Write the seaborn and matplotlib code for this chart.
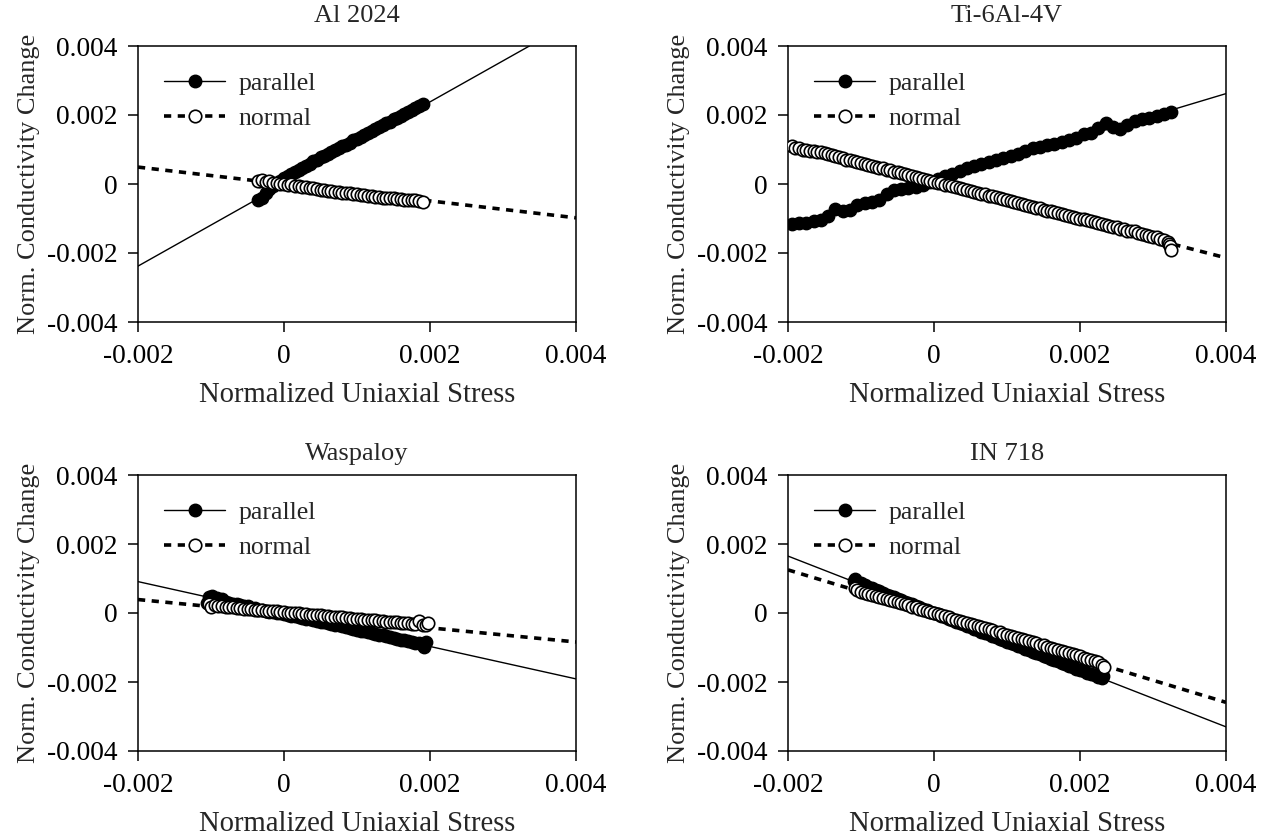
import matplotlib
matplotlib.use("Agg")
import matplotlib.pyplot as plt
from matplotlib.lines import Line2D
import seaborn as sns

# values, in units of 1e-3
al_par_x = [-0.35, -0.33, -0.30, -0.28, -0.25, -0.20, -0.15, -0.10, -0.05, 0.00, 0.05, 0.10,
            0.15, 0.20, 0.25, 0.30, 0.35, 0.40, 0.45, 0.50, 0.55, 0.60, 0.65, 0.70, 0.75, 0.80,
            0.85, 0.90, 0.95, 1.00, 1.05, 1.10, 1.15, 1.20, 1.25, 1.30, 1.35, 1.40, 1.45, 1.50,
            1.55, 1.60, 1.65, 1.70, 1.75, 1.80, 1.85, 1.90]
al_par_y = [-0.45, 0.10, -0.40, 0.08, -0.25, -0.15, -0.05, 0.03, 0.10, 0.16, 0.24, 0.30,
            0.35, 0.40, 0.47, 0.53, 0.58, 0.66, 0.70, 0.77, 0.81, 0.88, 0.93, 0.98, 1.04, 1.10,
            1.14, 1.20, 1.27, 1.31, 1.37, 1.42, 1.49, 1.54, 1.59, 1.66, 1.70, 1.76, 1.81, 1.88,
            1.92, 1.98, 2.04, 2.09, 2.14, 2.21, 2.26, 2.32]
al_nor_x = [-0.35, -0.30, -0.25, -0.20, -0.15, -0.10, -0.05, 0.00, 0.05, 0.10, 0.15, 0.20,
            0.25, 0.30, 0.35, 0.40, 0.45, 0.50, 0.55, 0.60, 0.65, 0.70, 0.75, 0.80, 0.85, 0.90,
            0.95, 1.00, 1.05, 1.10, 1.15, 1.20, 1.25, 1.30, 1.35, 1.40, 1.45, 1.50, 1.55, 1.60,
            1.65, 1.70, 1.75, 1.80, 1.85, 1.90]
al_nor_y = [0.10, 0.12, 0.05, 0.08, 0.03, 0.04, 0.00, 0.01, -0.02, -0.01, -0.05, -0.06,
            -0.08, -0.10, -0.11, -0.13, -0.15, -0.16, -0.17, -0.20, -0.20, -0.22, -0.23, -0.25,
            -0.26, -0.27, -0.30, -0.29, -0.32, -0.33, -0.34, -0.36, -0.37, -0.37, -0.40, -0.40,
            -0.41, -0.42, -0.44, -0.43, -0.45, -0.46, -0.46, -0.47, -0.48, -0.52]

ti_par_x = [-1.95, -1.85, -1.75, -1.65, -1.55, -1.45, -1.35, -1.25, -1.15, -1.05, -0.95, -0.85,
            -0.75, -0.65, -0.55, -0.45, -0.35, -0.25, -0.15, -0.05, 0.05, 0.15, 0.25, 0.35,
            0.45, 0.55, 0.65, 0.75, 0.85, 0.95, 1.05, 1.15, 1.25, 1.35, 1.45, 1.55, 1.65, 1.75,
            1.85, 1.95, 2.05, 2.15, 2.25, 2.35, 2.45, 2.55, 2.65, 2.75, 2.85, 2.95, 3.05, 3.15,
            3.25]
ti_par_y = [-1.17, -1.12, -1.13, -1.08, -1.03, -0.92, -0.72, -0.78, -0.76, -0.62, -0.56, -0.52,
            -0.46, -0.30, -0.17, -0.15, -0.13, -0.10, -0.02, 0.07, 0.14, 0.22, 0.30, 0.39,
            0.46, 0.53, 0.59, 0.64, 0.70, 0.75, 0.80, 0.86, 0.96, 1.04, 1.08, 1.13, 1.17, 1.21,
            1.27, 1.33, 1.46, 1.48, 1.62, 1.76, 1.65, 1.58, 1.72, 1.82, 1.87, 1.91, 1.98, 2.03,
            2.08]
ti_nor_x = [-1.95, -1.90, -1.85, -1.80, -1.75, -1.70, -1.65, -1.60, -1.55, -1.50, -1.45, -1.40,
            -1.35, -1.30, -1.25, -1.20, -1.15, -1.10, -1.05, -1.00, -0.95, -0.90, -0.85, -0.80,
            -0.75, -0.70, -0.65, -0.60, -0.55, -0.50, -0.45, -0.40, -0.35, -0.30, -0.25, -0.20,
            -0.15, -0.10, -0.05, 0.00, 0.05, 0.10, 0.15, 0.20, 0.25, 0.30, 0.35, 0.40, 0.45,
            0.50, 0.55, 0.60, 0.65, 0.70, 0.75, 0.80, 0.85, 0.90, 0.95, 1.00, 1.05, 1.10, 1.15,
            1.20, 1.25, 1.30, 1.35, 1.40, 1.45, 1.50, 1.55, 1.60, 1.65, 1.70, 1.75, 1.80, 1.85,
            1.90, 1.95, 2.00, 2.05, 2.10, 2.15, 2.20, 2.25, 2.30, 2.35, 2.40, 2.45, 2.50, 2.55,
            2.60, 2.65, 2.70, 2.75, 2.80, 2.85, 2.90, 2.95, 3.00, 3.05, 3.10, 3.15, 3.20, 3.22,
            3.23, 3.24]
ti_nor_y = [1.09, 1.05, 1.04, 1.00, 0.99, 0.97, 0.96, 0.92, 0.93, 0.89, 0.86, 0.85,
            0.80, 0.78, 0.75, 0.71, 0.70, 0.66, 0.63, 0.62, 0.57, 0.55, 0.53, 0.49,
            0.47, 0.45, 0.42, 0.40, 0.36, 0.35, 0.31, 0.28, 0.27, 0.23, 0.20, 0.18,
            0.15, 0.12, 0.08, 0.07, 0.04, 0.02, -0.02, -0.04, -0.06, -0.09, -0.12, -0.14, -0.17,
            -0.19, -0.23, -0.25, -0.28, -0.30, -0.34, -0.36, -0.39, -0.42, -0.44, -0.46, -0.50,
            -0.52, -0.55, -0.58, -0.60, -0.63, -0.66, -0.69, -0.71, -0.74, -0.77, -0.79, -0.82,
            -0.84, -0.87, -0.90, -0.92, -0.95, -0.98, -1.00, -1.02, -1.05, -1.07, -1.11, -1.12,
            -1.16, -1.18, -1.21, -1.24, -1.26, -1.30, -1.31, -1.35, -1.37, -1.36, -1.42, -1.45,
            -1.47, -1.50, -1.53, -1.55, -1.60, -1.62, -1.67, -1.74, -1.80, -1.90]

wa_par_x = [-1.05, -1.03, -1.00, -0.98, -0.95, -0.92, -0.90, -0.85, -0.80, -0.75, -0.70, -0.65,
            -0.60, -0.55, -0.50, -0.45, -0.40, -0.35, -0.30, -0.25, -0.20, -0.15, -0.10, -0.05,
            0.00, 0.05, 0.10, 0.15, 0.20, 0.25, 0.30, 0.35, 0.40, 0.45, 0.50, 0.55, 0.60, 0.65,
            0.70, 0.75, 0.80, 0.85, 0.90, 0.95, 1.00, 1.05, 1.10, 1.15, 1.20, 1.25, 1.30, 1.35,
            1.40, 1.45, 1.50, 1.55, 1.60, 1.65, 1.70, 1.75, 1.80, 1.85, 1.90, 1.92, 1.94]
wa_par_y = [0.30, 0.45, 0.20, 0.50, 0.35, 0.44, 0.28, 0.40, 0.33, 0.30, 0.27, 0.26,
            0.22, 0.20, 0.19, 0.15, 0.14, 0.10, 0.09, 0.06, 0.04, 0.03, 0.00, -0.01,
            -0.04, -0.05, -0.08, -0.10, -0.12, -0.14, -0.17, -0.18, -0.21, -0.23, -0.26, -0.27,
            -0.30, -0.32, -0.35, -0.36, -0.39, -0.41, -0.43, -0.46, -0.48, -0.51, -0.53, -0.55,
            -0.58, -0.60, -0.63, -0.65, -0.67, -0.70, -0.72, -0.74, -0.77, -0.79, -0.82, -0.84,
            -0.87, -0.88, -0.93, -0.98, -0.85]
wa_nor_x = [-1.03, -1.00, -0.95, -0.90, -0.85, -0.80, -0.75, -0.70, -0.65, -0.60, -0.55, -0.50,
            -0.45, -0.40, -0.35, -0.30, -0.25, -0.20, -0.15, -0.10, -0.05, 0.00, 0.05, 0.10,
            0.15, 0.20, 0.25, 0.30, 0.35, 0.40, 0.45, 0.50, 0.55, 0.60, 0.65, 0.70, 0.75, 0.80,
            0.85, 0.90, 0.95, 1.00, 1.05, 1.10, 1.15, 1.20, 1.25, 1.30, 1.35, 1.40, 1.45, 1.50,
            1.55, 1.60, 1.65, 1.70, 1.75, 1.80, 1.85, 1.90, 1.95, 1.97]
wa_nor_y = [0.25, 0.18, 0.23, 0.20, 0.19, 0.18, 0.17, 0.17, 0.15, 0.15, 0.13, 0.12,
            0.12, 0.10, 0.09, 0.09, 0.07, 0.07, 0.05, 0.05, 0.03, 0.03, 0.01, 0.01,
            -0.01, -0.01, -0.03, -0.03, -0.05, -0.05, -0.07, -0.07, -0.09, -0.08, -0.11, -0.11,
            -0.12, -0.13, -0.14, -0.14, -0.16, -0.17, -0.17, -0.19, -0.19, -0.21, -0.21, -0.23,
            -0.23, -0.25, -0.25, -0.26, -0.27, -0.28, -0.29, -0.30, -0.31, -0.32, -0.22, -0.34,
            -0.35, -0.30]

in_par_x = [-1.10, -1.08, -1.05, -1.00, -0.95, -0.90, -0.85, -0.80, -0.75, -0.70, -0.65, -0.60,
            -0.55, -0.50, -0.45, -0.40, -0.35, -0.30, -0.25, -0.20, -0.15, -0.10, -0.05, 0.00,
            0.05, 0.10, 0.15, 0.20, 0.25, 0.30, 0.35, 0.40, 0.45, 0.50, 0.55, 0.60, 0.65, 0.70,
            0.75, 0.80, 0.85, 0.90, 0.95, 1.00, 1.05, 1.10, 1.15, 1.20, 1.25, 1.30, 1.35, 1.40,
            1.45, 1.50, 1.55, 1.60, 1.65, 1.70, 1.75, 1.80, 1.85, 1.90, 1.95, 2.00, 2.05, 2.10,
            2.15, 2.20, 2.25, 2.30, 2.32]
in_par_y = [0.93, 1.00, 0.86, 0.86, 0.80, 0.76, 0.72, 0.66, 0.63, 0.58, 0.53, 0.50,
            0.45, 0.41, 0.37, 0.33, 0.29, 0.25, 0.21, 0.17, 0.12, 0.08, 0.04, 0.00,
            -0.04, -0.08, -0.12, -0.17, -0.21, -0.25, -0.29, -0.33, -0.37, -0.41, -0.46, -0.50,
            -0.54, -0.58, -0.62, -0.66, -0.70, -0.75, -0.79, -0.83, -0.87, -0.91, -0.95, -0.99,
            -1.03, -1.07, -1.12, -1.15, -1.20, -1.24, -1.28, -1.32, -1.36, -1.40, -1.45, -1.48,
            -1.53, -1.57, -1.61, -1.65, -1.69, -1.73, -1.78, -1.80, -1.85, -1.88, -1.83]
in_nor_x = [-1.08, -1.05, -1.00, -0.95, -0.90, -0.85, -0.80, -0.75, -0.70, -0.65, -0.60, -0.55,
            -0.50, -0.45, -0.40, -0.35, -0.30, -0.25, -0.20, -0.15, -0.10, -0.05, 0.00, 0.05,
            0.10, 0.15, 0.20, 0.25, 0.30, 0.35, 0.40, 0.45, 0.50, 0.55, 0.60, 0.65, 0.70, 0.75,
            0.80, 0.85, 0.90, 0.95, 1.00, 1.05, 1.10, 1.15, 1.20, 1.25, 1.30, 1.35, 1.40, 1.45,
            1.50, 1.55, 1.60, 1.65, 1.70, 1.75, 1.80, 1.85, 1.90, 1.95, 2.00, 2.05, 2.10, 2.15,
            2.20, 2.25, 2.30, 2.33]
in_nor_y = [0.72, 0.66, 0.62, 0.59, 0.55, 0.53, 0.49, 0.47, 0.43, 0.41, 0.37, 0.34,
            0.31, 0.28, 0.25, 0.22, 0.18, 0.16, 0.12, 0.09, 0.06, 0.03, 0.00, -0.03,
            -0.06, -0.10, -0.12, -0.16, -0.19, -0.22, -0.25, -0.28, -0.31, -0.35, -0.37, -0.41,
            -0.44, -0.47, -0.50, -0.54, -0.56, -0.60, -0.63, -0.66, -0.69, -0.73, -0.75, -0.79,
            -0.82, -0.85, -0.88, -0.92, -0.94, -0.98, -1.01, -1.04, -1.07, -1.11, -1.13, -1.17,
            -1.20, -1.23, -1.26, -1.30, -1.32, -1.36, -1.39, -1.42, -1.50, -1.56]

# fitted lines: slope, intercept (intercept in 1e-3)
par_fit = {"Al 2024": (1.19, 0.0), "Ti-6Al-4V": (0.635, 0.08),
           "Waspaloy": (-0.47, -0.03), "IN 718": (-0.825, 0.0)}
nor_fit = {"Al 2024": (-0.245, 0.0), "Ti-6Al-4V": (-0.545, 0.04),
           "Waspaloy": (-0.205, -0.02), "IN 718": (-0.64, -0.03)}

titles = ["Al 2024", "Ti-6Al-4V", "Waspaloy", "IN 718"]
series = {
    "Al 2024": (al_par_x, al_par_y, al_nor_x, al_nor_y),
    "Ti-6Al-4V": (ti_par_x, ti_par_y, ti_nor_x, ti_nor_y),
    "Waspaloy": (wa_par_x, wa_par_y, wa_nor_x, wa_nor_y),
    "IN 718": (in_par_x, in_par_y, in_nor_x, in_nor_y),
}
x_ticks = [-0.002, 0, 0.002, 0.004]
x_tick_labels = ["-0.002", "0", "0.002", "0.004"]
y_ticks = [-0.004, -0.002, 0, 0.002, 0.004]
y_tick_labels = ["-0.004", "-0.002", "0", "0.002", "0.004"]

sns.set_style("ticks")
plt.rcParams["font.family"] = ["Liberation Serif", "DejaVu Serif"]
plt.rcParams["axes.unicode_minus"] = False

W, H = 1271, 840
fig = plt.figure(figsize=(W / 100, H / 100), dpi=100)

# axes boxes in pixels: left, top, title pad
boxes = [(138, 46, 17), (788, 46, 17), (138, 475, 11), (788, 475, 11)]
aw, ah = 438, 276

DASH = (0, (2.0, 1.8))
S = 1e-3
MS = 80

for name, (px, py, tpad) in zip(titles, boxes):
    ax = fig.add_axes([px / W, 1 - (py + ah) / H, aw / W, ah / H])
    p_x, p_y, n_x, n_y = series[name]

    m, b = par_fit[name]
    ax.axline((0, b * S), slope=m, color="black", lw=1.0, zorder=1)
    m, b = nor_fit[name]
    ax.axline((0, b * S), slope=m, color="black", lw=2.6, linestyle=DASH, zorder=1)

    sns.scatterplot(x=[v * S for v in p_x], y=[v * S for v in p_y], ax=ax, s=MS,
                    color="black", edgecolor="black", linewidth=1.0, zorder=3, legend=False)
    sns.scatterplot(x=[v * S for v in n_x], y=[v * S for v in n_y], ax=ax, s=MS,
                    color="white", edgecolor="black", linewidth=1.2, zorder=4, legend=False)

    ax.set_xlim(-0.002, 0.004)
    ax.set_ylim(-0.004, 0.004)
    ax.set_xticks(x_ticks)
    ax.set_xticklabels(x_tick_labels)
    ax.set_yticks(y_ticks)
    ax.set_yticklabels(y_tick_labels)
    ax.tick_params(direction="out", length=7, width=1.1, labelsize=19.8, colors="black")
    ax.tick_params(axis="x", pad=9)
    ax.tick_params(axis="y", pad=8)
    for sp in ax.spines.values():
        sp.set_visible(True)
        sp.set_linewidth(1.1)
        sp.set_color("black")
    ax.set_title(name, fontsize=19, pad=tpad)
    ax.set_xlabel("Normalized Uniaxial Stress", fontsize=20.6, labelpad=9)
    ax.set_ylabel("Norm. Conductivity Change", fontsize=19, labelpad=4.5)

    handles = [
        Line2D([], [], color="black", lw=1.0, marker="o", markersize=9,
               markerfacecolor="black", markeredgecolor="black"),
        Line2D([], [], color="black", lw=2.6, linestyle=DASH, marker="o", markersize=9,
               markerfacecolor="white", markeredgecolor="black", markeredgewidth=1.2),
    ]
    ax.legend(handles, ["parallel", "normal"], loc="upper left", frameon=False,
              fontsize=18.5, handlelength=2.4, handletextpad=0.5, labelspacing=0.48,
              borderaxespad=0.6)

fig.savefig("out.png", dpi=100)
